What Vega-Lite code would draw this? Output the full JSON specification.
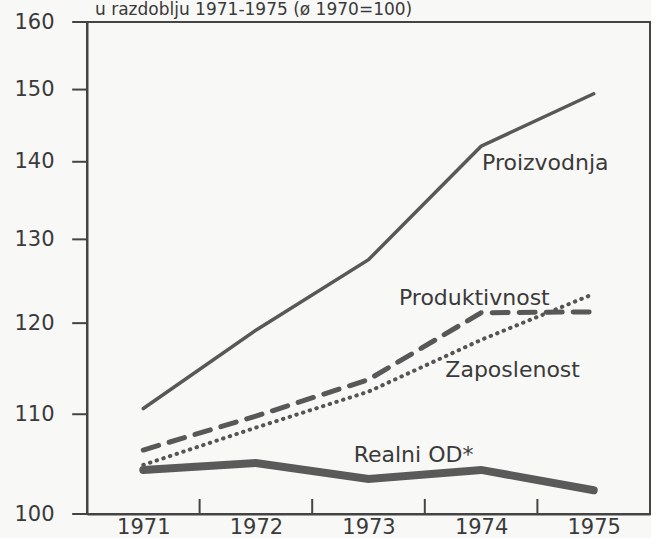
{
  "$schema": "https://vega.github.io/schema/vega-lite/v6.json",
  "width": 563,
  "height": 492,
  "autosize": {"type": "none"},
  "padding": {"left": 87, "top": 22, "right": 1, "bottom": 24},
  "background": "#f8f8f6",
  "title": {
    "text": "u razdoblju 1971-1975 (ø 1970=100)",
    "anchor": "start",
    "frame": "group",
    "dx": 8,
    "offset": -25,
    "baseline": "bottom",
    "font": "DejaVu Sans",
    "fontSize": 17,
    "fontWeight": "normal",
    "color": "#3a3a3a"
  },
  "config": {
    "view": {"stroke": "#444", "strokeWidth": 2}
  },
  "datasets": {
    "series": [
      {"year": 1971, "series": "Proizvodnja", "value": 110.6},
      {"year": 1972, "series": "Proizvodnja", "value": 119.2},
      {"year": 1973, "series": "Proizvodnja", "value": 127.5},
      {"year": 1974, "series": "Proizvodnja", "value": 142.1},
      {"year": 1975, "series": "Proizvodnja", "value": 149.4},
      {"year": 1971, "series": "Produktivnost", "value": 106.3},
      {"year": 1972, "series": "Produktivnost", "value": 109.8},
      {"year": 1973, "series": "Produktivnost", "value": 113.7},
      {"year": 1974, "series": "Produktivnost", "value": 121.2},
      {"year": 1975, "series": "Produktivnost", "value": 121.3},
      {"year": 1971, "series": "Zaposlenost", "value": 104.8},
      {"year": 1972, "series": "Zaposlenost", "value": 108.6},
      {"year": 1973, "series": "Zaposlenost", "value": 112.4},
      {"year": 1974, "series": "Zaposlenost", "value": 118.1},
      {"year": 1975, "series": "Zaposlenost", "value": 123.4},
      {"year": 1971, "series": "Realni OD*", "value": 104.3},
      {"year": 1972, "series": "Realni OD*", "value": 105.0},
      {"year": 1973, "series": "Realni OD*", "value": 103.4},
      {"year": 1974, "series": "Realni OD*", "value": 104.3},
      {"year": 1975, "series": "Realni OD*", "value": 102.3}
    ],
    "labels": [
      {"label": "Proizvodnja", "year": 1974.57, "value": 139.8},
      {"label": "Produktivnost", "year": 1973.94, "value": 122.9},
      {"label": "Zaposlenost", "year": 1974.28, "value": 114.8},
      {"label": "Realni OD*", "year": 1973.4, "value": 105.8}
    ],
    "xticks": [
      {"year": 1971.5, "value": 100.72},
      {"year": 1972.5, "value": 100.72},
      {"year": 1973.5, "value": 100.72},
      {"year": 1974.5, "value": 100.72}
    ],
    "yticks": [
      {"year": 1970.435, "value": 100},
      {"year": 1970.435, "value": 110},
      {"year": 1970.435, "value": 120},
      {"year": 1970.435, "value": 130},
      {"year": 1970.435, "value": 140},
      {"year": 1970.435, "value": 150},
      {"year": 1970.435, "value": 160}
    ]
  },
  "encoding": {
    "x": {
      "field": "year",
      "type": "quantitative",
      "scale": {"domain": [1970.5, 1975.5], "nice": false, "zero": false},
      "axis": {
        "title": null,
        "grid": false,
        "values": [1971, 1972, 1973, 1974, 1975],
        "format": "d",
        "domainColor": "#444",
        "domainWidth": 2,
        "ticks": false,
        "labelFont": "DejaVu Sans",
        "labelFontSize": 21,
        "labelColor": "#3a3a3a",
        "labelPadding": 2,
        "labelFlush": false
      }
    },
    "y": {
      "field": "value",
      "type": "quantitative",
      "scale": {"type": "log", "domain": [100, 160], "nice": false},
      "axis": {
        "title": null,
        "grid": false,
        "values": [100, 110, 120, 130, 140, 150, 160],
        "domainColor": "#444",
        "domainWidth": 2,
        "ticks": false,
        "labelFont": "DejaVu Sans",
        "labelFontSize": 21,
        "labelColor": "#3a3a3a",
        "labelPadding": 33
      }
    }
  },
  "layer": [
    {
      "data": {"name": "xticks"},
      "mark": {"type": "tick", "orient": "vertical", "color": "#444", "thickness": 2, "size": 15, "opacity": 1}
    },
    {
      "data": {"name": "yticks"},
      "mark": {"type": "tick", "orient": "horizontal", "color": "#444", "thickness": 2, "size": 15, "opacity": 1}
    },
    {
      "data": {"name": "series"},
      "transform": [{"filter": "datum.series == 'Proizvodnja'"}],
      "mark": {"type": "line", "color": "#585858", "strokeWidth": 3.5, "strokeCap": "round"}
    },
    {
      "data": {"name": "series"},
      "transform": [{"filter": "datum.series == 'Produktivnost'"}],
      "mark": {"type": "line", "color": "#585858", "strokeWidth": 5, "strokeCap": "round", "strokeDash": [16, 11]}
    },
    {
      "data": {"name": "series"},
      "transform": [{"filter": "datum.series == 'Zaposlenost'"}],
      "mark": {"type": "line", "color": "#555", "strokeWidth": 4, "strokeCap": "round", "strokeDash": [0.5, 6.5]}
    },
    {
      "data": {"name": "series"},
      "transform": [{"filter": "datum.series == 'Realni OD*'"}],
      "mark": {"type": "line", "color": "#5a5a5a", "strokeWidth": 8, "strokeCap": "round"}
    },
    {
      "data": {"name": "labels"},
      "mark": {"type": "text", "font": "DejaVu Sans", "fontSize": 22, "color": "#3a3a3a", "align": "center", "baseline": "middle"},
      "encoding": {"text": {"field": "label"}}
    }
  ]
}
